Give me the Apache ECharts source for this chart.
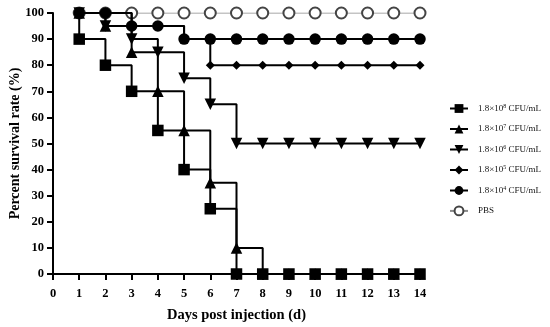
<!DOCTYPE html>
<html>
<head>
<meta charset="utf-8">
<script src="https://cdn.jsdelivr.net/npm/echarts@6/dist/echarts.min.js"></script>
<style>html,body{margin:0;padding:0;background:#fff}#c{width:550px;height:327px}</style>
</head>
<body>
<div id="c"></div>
<script>
const days = [1,2,3,4,5,6,7,8,9,10,11,12,13,14];
const startValue = 100;
const cfu8 = [90,80,70,55,40,25,0,0,0,0,0,0,0,0];
const cfu7 = [100,95,85,70,55,35,10,0,0,0,0,0,0,0];
const cfu6 = [100,95,90,85,75,65,50,50,50,50,50,50,50,50];
const cfu5 = [100,100,95,95,90,80,80,80,80,80,80,80,80,80];
const cfu4 = [100,100,95,95,90,90,90,90,90,90,90,90,90,90];
const pbs  = [100,100,100,100,100,100,100,100,100,100,100,100,100,100];
const seriesNames = ['1.8×10{sup|8} CFU/mL','1.8×10{sup|7} CFU/mL','1.8×10{sup|6} CFU/mL','1.8×10{sup|5} CFU/mL','1.8×10{sup|4} CFU/mL','PBS'];
const xTicks = [0,1,2,3,4,5,6,7,8,9,10,11,12,13,14];
const yTicks = [0,10,20,30,40,50,60,70,80,90,100];

const FONT = '"Liberation Serif","DejaVu Serif",serif';
function build(vals){
  return [{value:[days[0], startValue], symbol:'none'}].concat(days.map((d,i)=>[d, vals[i]]));
}
const groups = [
  {vals:cfu8, symbol:'rect', size:11.5},
  {vals:cfu7, symbol:'triangle', size:11.5},
  {vals:cfu6, symbol:'path://M0,0 L10,0 L5,10 Z', size:11.5},
  {vals:cfu5, symbol:'diamond', size:9},
  {vals:cfu4, symbol:'circle', size:11.5},
  {vals:pbs, symbol:'emptyCircle', size:11}
];
const series = groups.map((g,i)=>{
  const isPbs = i===5;
  return {
    name: seriesNames[i],
    type:'line',
    step:'end',
    data: build(g.vals),
    symbol: g.symbol,
    symbolSize: g.size,
    showAllSymbol:true,
    z: isPbs ? 1 : 2 + i,
    lineStyle:{color: isPbs ? '#8a8a8a' : '#000', width: isPbs ? 1.2 : 2},
    itemStyle:{color: isPbs ? '#444' : '#000', borderWidth: isPbs ? 1 : 0},
    emphasis:{disabled:true},
    animation:false
  };
});

const chart = echarts.init(document.getElementById('c'));
chart.setOption({
  backgroundColor:'#fff',
  animation:false,
  grid:{left:53, right:130, top:13, bottom:53, containLabel:false, outerBoundsMode:'none'},
  legend:{
    orient:'vertical', left:444, top:98,
    itemWidth:18, itemHeight:11, itemGap:10.5,
    data: seriesNames,
    formatter: n => n,
    textStyle:{fontFamily:FONT, fontSize:9, color:'#111', padding:[0,0,0,5],
      rich:{sup:{fontFamily:FONT, fontSize:6, verticalAlign:'top', padding:[0,0,5,0]}}}
  },
  xAxis:{
    type:'value', min:xTicks[0], max:xTicks[xTicks.length-1], interval:1,
    name:'Days post injection (d)', nameLocation:'middle', nameGap:34, nameMoveOverlap:false,
    nameTextStyle:{fontFamily:FONT, fontSize:14.5, fontWeight:'bold', color:'#000'},
    axisLine:{lineStyle:{color:'#000', width:2}},
    axisTick:{length:6, lineStyle:{width:2, color:'#000'}},
    axisLabel:{margin:13, fontFamily:FONT, fontSize:12.5, fontWeight:'bold', color:'#000'},
    splitLine:{show:false}
  },
  yAxis:{
    type:'value', min:yTicks[0], max:yTicks[yTicks.length-1], interval:10,
    name:'Percent survival rate (%)', nameLocation:'middle', nameGap:31, nameMoveOverlap:false,
    nameTextStyle:{fontFamily:FONT, fontSize:14, fontWeight:'bold', color:'#000'},
    axisLine:{show:true, lineStyle:{color:'#000', width:2}},
    axisTick:{show:true, length:6, lineStyle:{width:2, color:'#000'}},
    axisLabel:{margin:9, fontFamily:FONT, fontSize:12.5, fontWeight:'bold', color:'#000'},
    splitLine:{show:false}
  },
  series: series
});
</script>
</body>
</html>
